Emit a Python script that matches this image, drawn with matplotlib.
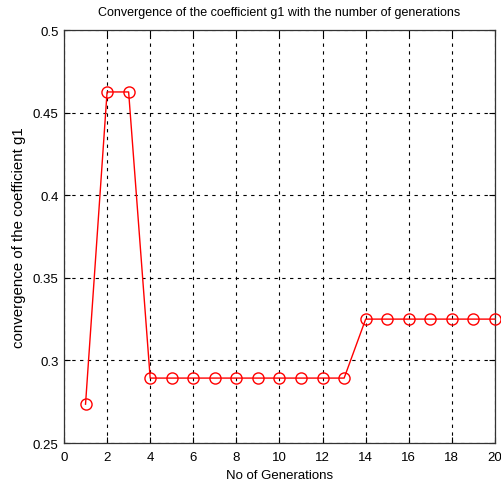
import matplotlib
matplotlib.use("Agg")
import matplotlib.pyplot as plt

generations = list(range(1, 21))
g1_values = [0.2735, 0.4625, 0.4625] + [0.2893] * 10 + [0.3250] * 7
x_ticks = [0, 2, 4, 6, 8, 10, 12, 14, 16, 18, 20]
y_ticks = [0.25, 0.3, 0.35, 0.4, 0.45, 0.5]
y_tick_labels = ["0.25", "0.3", "0.35", "0.4", "0.45", "0.5"]

plt.rcParams['font.family'] = ['Liberation Sans', 'DejaVu Sans']

fig = plt.figure(figsize=(5.01, 4.89), dpi=100)
ax = fig.add_axes([0.1277, 0.092, 0.8603, 0.8446])
ax.plot(generations, g1_values, color='red', linewidth=1.0, marker='o',
        markersize=8, markerfacecolor='none', markeredgecolor='red',
        markeredgewidth=1.0, clip_on=False, zorder=3)
ax.set_xlim(0, 20)
ax.set_ylim(0.25, 0.5)
ax.set_xticks(x_ticks)
ax.set_yticks(y_ticks)
ax.set_yticklabels(y_tick_labels)
ax.grid(True, color='black', linestyle=(0, (3, 4)), linewidth=0.8)
ax.tick_params(direction='in', length=4, top=True, right=True,
               labeltop=False, labelright=False, labelsize=9.5)
ax.tick_params(axis='x', pad=6)
ax.tick_params(axis='y', pad=4)
for s in ax.spines.values():
    s.set_color('#333333')
    s.set_linewidth(0.9)
ax.set_title("Convergence of the coefficient g1 with the number of generations",
             fontsize=9, pad=11)
ax.set_xlabel("No of Generations", fontsize=9.5, labelpad=4)
ax.set_ylabel("convergence of the coefficient g1", fontsize=10.8, labelpad=5)
fig.savefig("out.png", dpi=100)
